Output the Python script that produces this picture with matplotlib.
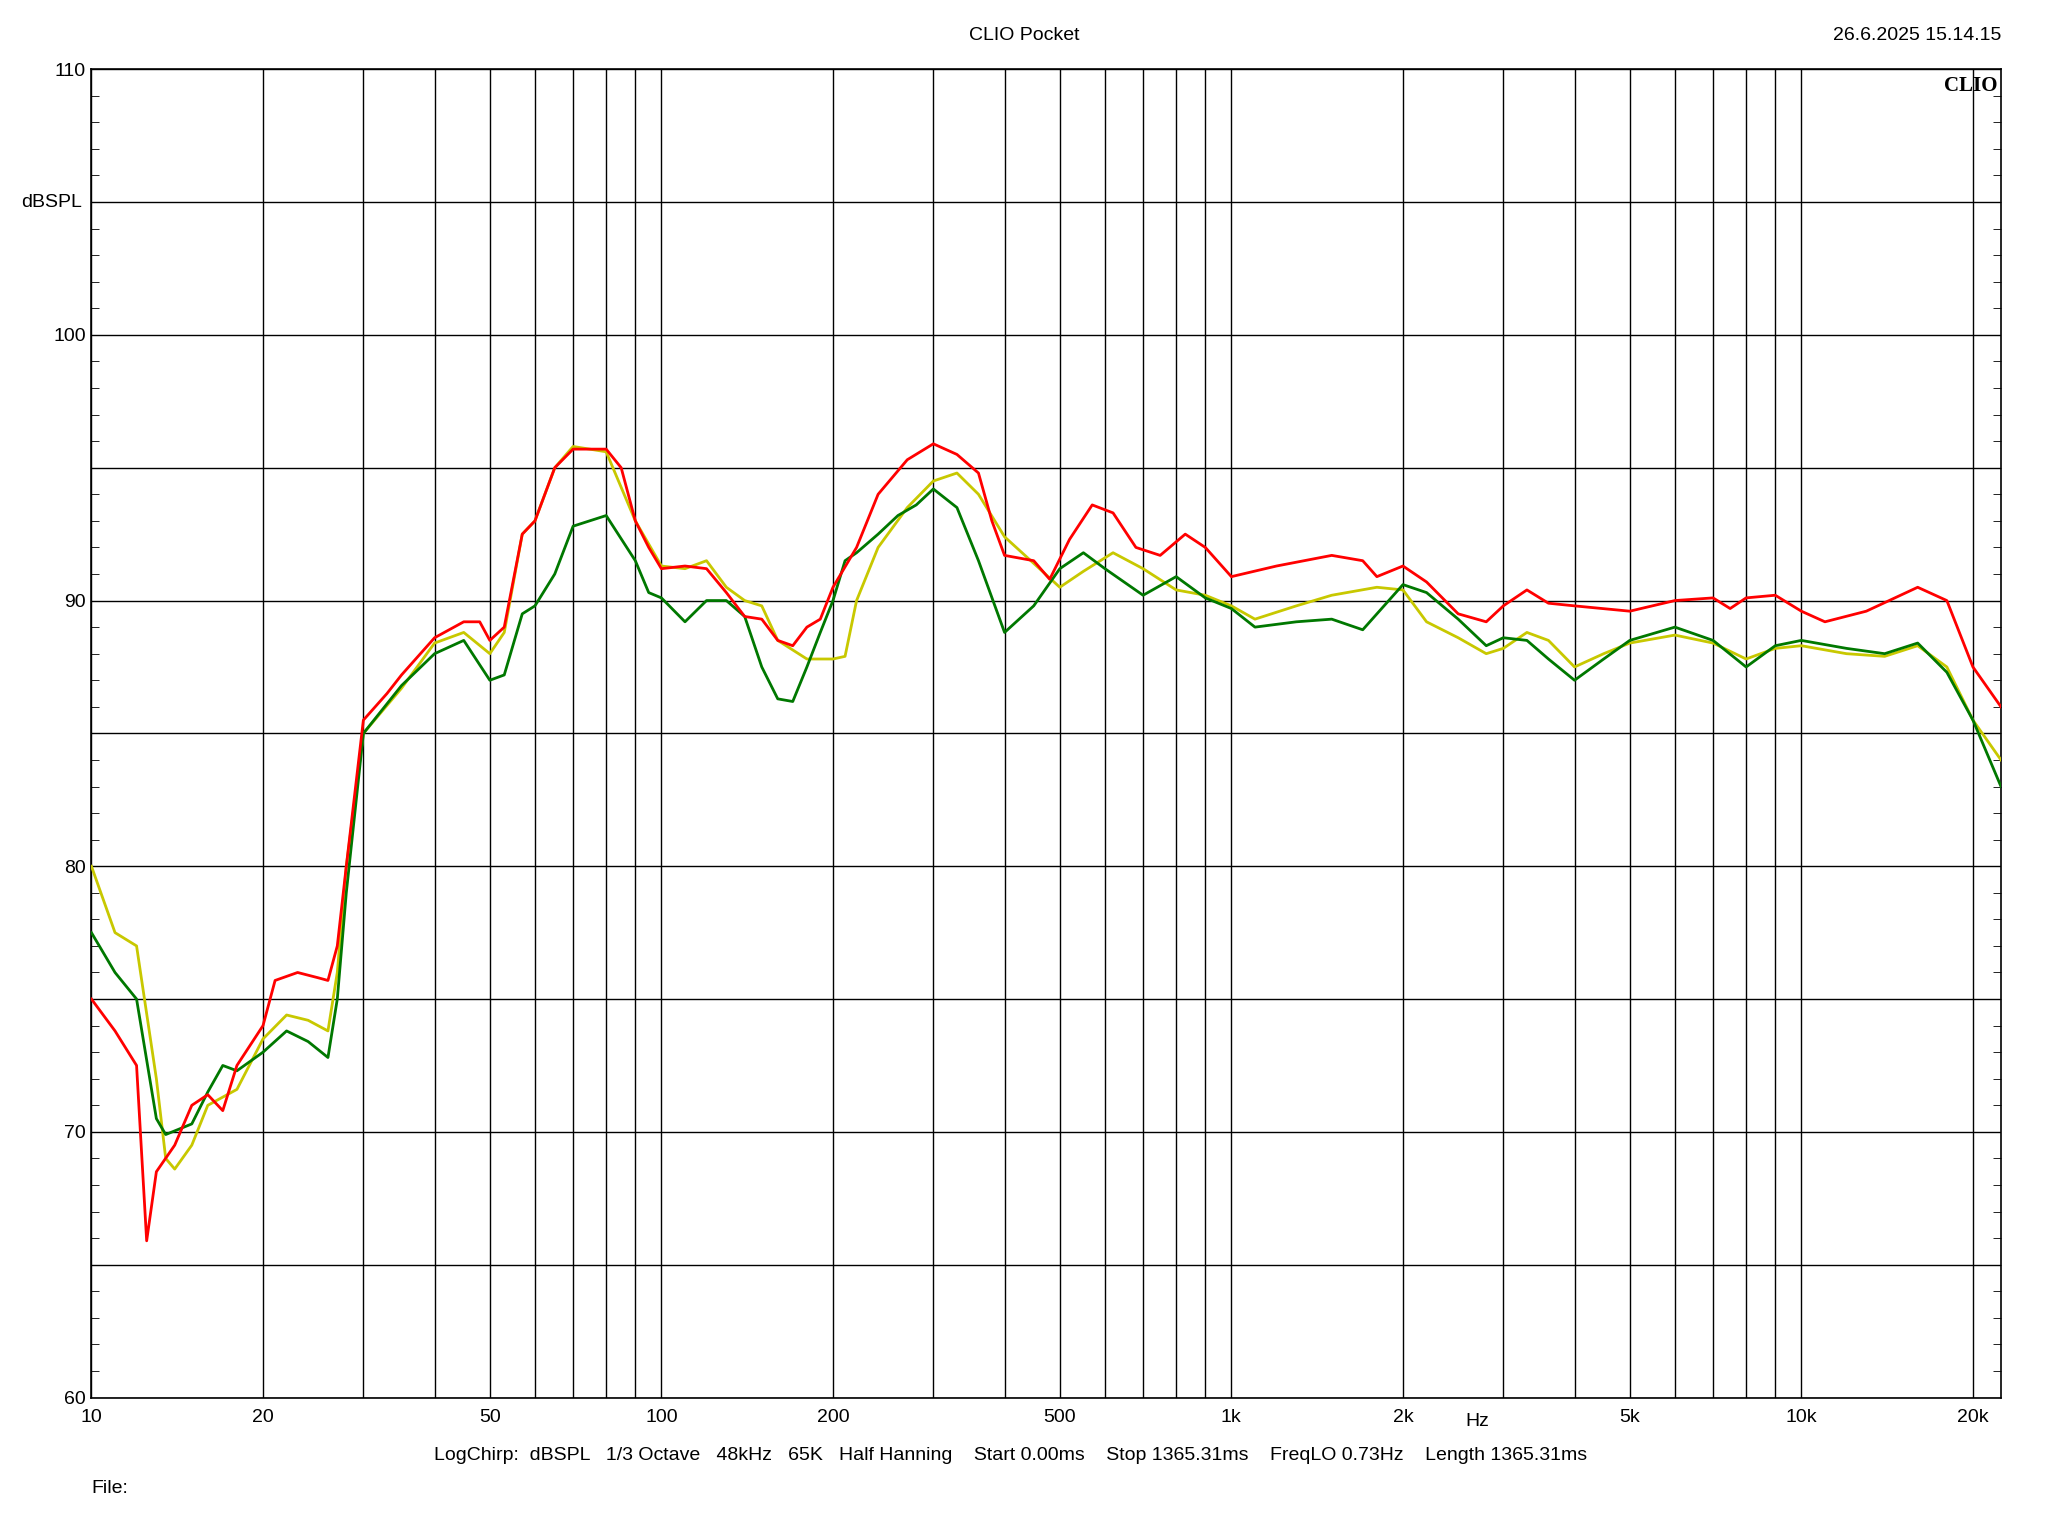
import matplotlib
matplotlib.use("Agg")
import matplotlib.pyplot as plt
import numpy as np
from matplotlib.ticker import FixedLocator, NullFormatter, MultipleLocator

red_f = [10,11,12,12.5,13,14,15,16,17,18,20,21,23,25,26,27,28,30,33,35,40,45,48,50,53,57,60,65,70,80,85,90,95,100,110,120,130,140,150,160,170,180,190,200,220,240,270,300,330,360,380,400,450,480,520,570,620,680,750,830,900,1000,1200,1500,1700,1800,2000,2200,2500,2800,3000,3300,3600,4000,5000,6000,7000,7500,8000,9000,10000,11000,13000,16000,18000,20000,22400]
red_db = [75,73.8,72.5,65.9,68.5,69.5,71,71.4,70.8,72.5,74,75.7,76,75.8,75.7,77,80,85.5,86.5,87.2,88.6,89.2,89.2,88.5,89,92.5,93,95,95.7,95.7,95,93,92,91.2,91.3,91.2,90.3,89.4,89.3,88.5,88.3,89,89.3,90.5,92,94,95.3,95.9,95.5,94.8,93,91.7,91.5,90.8,92.3,93.6,93.3,92,91.7,92.5,92,90.9,91.3,91.7,91.5,90.9,91.3,90.7,89.5,89.2,89.8,90.4,89.9,89.8,89.6,90,90.1,89.7,90.1,90.2,89.6,89.2,89.6,90.5,90,87.5,86]

yel_f = [10,11,12,13,13.5,14,15,16,18,20,22,24,26,27,28,30,35,40,45,50,53,57,60,65,70,80,90,100,110,120,130,140,150,160,180,200,210,220,240,270,300,330,360,400,450,500,550,620,700,800,900,1000,1100,1300,1500,1800,2000,2200,2500,2800,3000,3300,3600,4000,4500,5000,6000,7000,8000,9000,10000,12000,14000,16000,18000,20000,22400]
yel_db = [80,77.5,77,72,69,68.6,69.5,71,71.6,73.5,74.4,74.2,73.8,76,80,85,86.7,88.4,88.8,88,88.8,92.5,93,95,95.8,95.6,93,91.3,91.2,91.5,90.5,90,89.8,88.5,87.8,87.8,87.9,90,92,93.5,94.5,94.8,94,92.4,91.4,90.5,91.1,91.8,91.2,90.4,90.2,89.8,89.3,89.8,90.2,90.5,90.4,89.2,88.6,88,88.2,88.8,88.5,87.5,88,88.4,88.7,88.4,87.8,88.2,88.3,88,87.9,88.3,87.5,85.5,84]

grn_f = [10,11,12,13,13.5,15,16,17,18,20,22,24,26,27,28,30,35,40,45,50,53,57,60,65,70,80,90,95,100,110,120,130,140,150,160,170,180,190,200,210,220,240,260,280,300,330,360,400,450,500,550,600,700,800,900,1000,1100,1300,1500,1700,2000,2200,2500,2800,3000,3300,3600,4000,4500,5000,6000,7000,8000,9000,10000,12000,14000,16000,18000,20000,22400]
grn_db = [77.5,76,75,70.5,69.9,70.3,71.5,72.5,72.3,73,73.8,73.4,72.8,75,79,85,86.8,88,88.5,87,87.2,89.5,89.8,91,92.8,93.2,91.5,90.3,90.1,89.2,90,90,89.4,87.5,86.3,86.2,87.5,88.8,90,91.5,91.8,92.5,93.2,93.6,94.2,93.5,91.5,88.8,89.8,91.2,91.8,91.2,90.2,90.9,90.1,89.7,89.0,89.2,89.3,88.9,90.6,90.3,89.3,88.3,88.6,88.5,87.8,87.0,87.8,88.5,89.0,88.5,87.5,88.3,88.5,88.2,88.0,88.4,87.3,85.5,83]

xtick_vals = [10,20,50,100,200,500,1000,2000,5000,10000,20000]
xtick_labels = ["10","20","50","100","200","500","1k","2k","5k","10k","20k"]
ytick_vals = [60,70,80,90,100,110]

W, H = 1568.0, 1176.0
plt.rcParams['font.family'] = ['Liberation Sans', 'DejaVu Sans']
fig = plt.figure(figsize=(20.48, 15.36), dpi=100)
ax = fig.add_axes([70/W, 1-1070/H, (1532-70)/W, (1070-53)/H])
ax.set_xscale('log')
ax.set_xlim(10, 22400)
ax.set_ylim(60, 110)

grid = []
for d in [10, 100, 1000, 10000]:
    for m in range(1, 10):
        if d*m <= 22400:
            grid.append(d*m)
for g in grid:
    ax.axvline(g, color='black', lw=1.0, zorder=1)
for y in np.arange(60, 111, 5):
    ax.axhline(y, color='black', lw=1.0, zorder=1)

ax.plot(yel_f, yel_db, color='#c8c800', lw=2, zorder=3)
ax.plot(grn_f, grn_db, color='#007800', lw=2, zorder=4)
ax.plot(red_f, red_db, color='#ff0000', lw=2, zorder=5)

ax.xaxis.set_major_locator(FixedLocator(xtick_vals))
ax.set_xticklabels(xtick_labels)
ax.xaxis.set_minor_locator(FixedLocator([]))
ax.xaxis.set_minor_formatter(NullFormatter())
ax.set_yticks(ytick_vals)
ax.yaxis.set_minor_locator(MultipleLocator(1))
ax.tick_params(axis='y', which='both', left=True, right=True, direction='in', labelsize=14, pad=4)
ax.tick_params(axis='y', which='minor', length=6)
ax.tick_params(axis='y', which='major', length=0)
ax.tick_params(axis='x', which='both', length=0, labelsize=14, pad=8)
for s in ax.spines.values():
    s.set_linewidth(1.2)

ax.text(-0.005, 105, "dBSPL", transform=ax.get_yaxis_transform(), ha='right', va='center', fontsize=14)
fig.text(1131/W, 1-1088/H, "Hz", ha='center', va='center', fontsize=14)
ax.text(0.998, 0.995, "CLIO", transform=ax.transAxes, ha='right', va='top', fontsize=15, fontweight='bold', family='Liberation Serif')

fig.text(784/W, 1-27/H, "CLIO Pocket", ha='center', va='center', fontsize=14)
fig.text(1532/W, 1-27/H, "26.6.2025 15.14.15", ha='right', va='center', fontsize=14)
fig.text(774/W, 1-1114/H, "LogChirp:  dBSPL   1/3 Octave   48kHz   65K   Half Hanning    Start 0.00ms    Stop 1365.31ms    FreqLO 0.73Hz    Length 1365.31ms", ha='center', va='center', fontsize=14)
fig.text(70/W, 1-1140/H, "File:", ha='left', va='center', fontsize=14)

fig.savefig("out.png", dpi=100, facecolor='white')
